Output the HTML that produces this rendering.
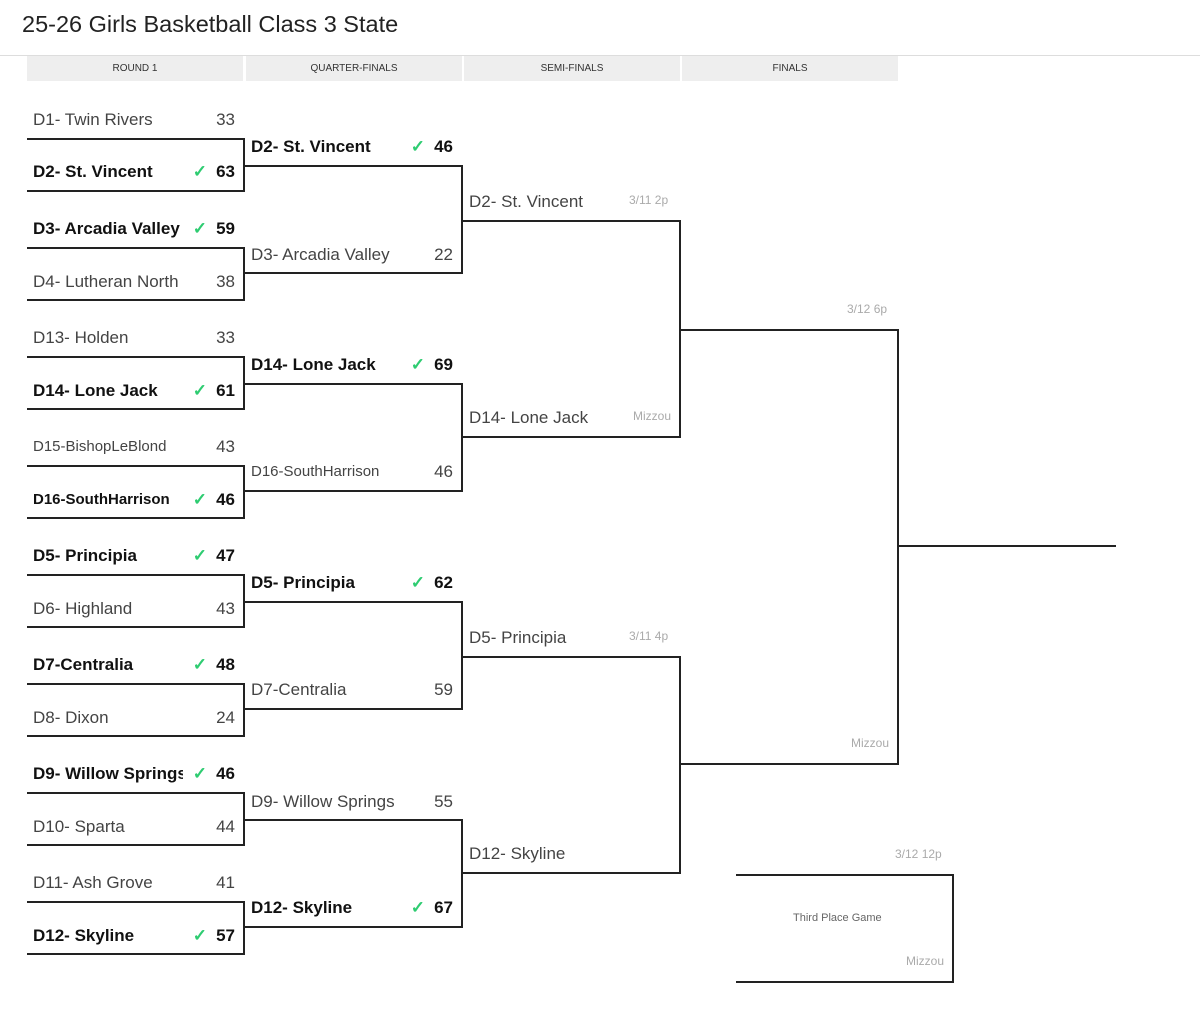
<!DOCTYPE html>
<html><head><meta charset="utf-8"><style>
body{margin:0;width:1200px;height:1022px;background:#fff;font-family:"Liberation Sans",sans-serif;position:relative;overflow:hidden}
.t{position:absolute;left:22px;top:11px;font-size:23.5px;color:#222}
.sep{position:absolute;left:0;top:55px;width:1200px;height:1px;background:#ddd}
.h{position:absolute;top:56px;height:25px;line-height:25px;background:#eee;font-size:10px;color:#333;text-align:center;width:216px}
.b{position:absolute;border:2px solid #222;border-left:none;width:216px}
.r{position:absolute;width:218px;height:26px;line-height:26px;font-size:17px;color:#444}
.r.w{font-weight:bold;color:#111}
.n{position:absolute;left:6px;white-space:nowrap}
.s{position:absolute;right:10px}
.c{position:absolute;right:38px;color:#2ecc71;font-weight:bold}
.d{position:absolute;font-size:12px;color:#aaa}
</style></head><body>
<div class="t">25-26 Girls Basketball Class 3 State</div>
<div class="sep"></div>
<div class="h" style="left:27px">ROUND 1</div>
<div class="h" style="left:246px">QUARTER-FINALS</div>
<div class="h" style="left:464px">SEMI-FINALS</div>
<div class="h" style="left:682px">FINALS</div>

<div class="b" style="left:27px;top:138px;height:50px"></div>
<div class="b" style="left:27px;top:247px;height:50px"></div>
<div class="b" style="left:27px;top:356px;height:50px"></div>
<div class="b" style="left:27px;top:465px;height:50px"></div>
<div class="b" style="left:27px;top:574px;height:50px"></div>
<div class="b" style="left:27px;top:683px;height:50px"></div>
<div class="b" style="left:27px;top:792px;height:50px"></div>
<div class="b" style="left:27px;top:901px;height:50px"></div>
<div class="b" style="left:245px;top:165px;height:105px"></div>
<div class="b" style="left:245px;top:383px;height:105px"></div>
<div class="b" style="left:245px;top:601px;height:105px"></div>
<div class="b" style="left:245px;top:819px;height:105px"></div>
<div class="b" style="left:463px;top:220px;height:214px"></div>
<div class="b" style="left:463px;top:656px;height:214px"></div>
<div class="b" style="left:681px;top:329px;height:432px"></div>
<div style="position:absolute;left:899px;top:545px;width:217px;height:2px;background:#222"></div>
<div class="b" style="left:736px;top:874px;height:105px"></div>

<div class="r" style="left:27px;top:107px"><span class="n">D1- Twin Rivers</span><span class="s">33</span></div>
<div class="r w" style="left:27px;top:159px"><span class="n">D2- St. Vincent</span><span class="c">✓</span><span class="s">63</span></div>
<div class="r w" style="left:27px;top:216px"><span class="n">D3- Arcadia Valley</span><span class="c">✓</span><span class="s">59</span></div>
<div class="r" style="left:27px;top:269px"><span class="n">D4- Lutheran North</span><span class="s">38</span></div>
<div class="r" style="left:27px;top:325px"><span class="n">D13- Holden</span><span class="s">33</span></div>
<div class="r w" style="left:27px;top:378px"><span class="n">D14- Lone Jack</span><span class="c">✓</span><span class="s">61</span></div>
<div class="r" style="left:27px;top:434px"><span class="n" style="font-size:15px">D15-BishopLeBlond</span><span class="s">43</span></div>
<div class="r w" style="left:27px;top:487px"><span class="n" style="font-size:15px">D16-SouthHarrison</span><span class="c">✓</span><span class="s">46</span></div>
<div class="r w" style="left:27px;top:543px"><span class="n">D5- Principia</span><span class="c">✓</span><span class="s">47</span></div>
<div class="r" style="left:27px;top:596px"><span class="n">D6- Highland</span><span class="s">43</span></div>
<div class="r w" style="left:27px;top:652px"><span class="n">D7-Centralia</span><span class="c">✓</span><span class="s">48</span></div>
<div class="r" style="left:27px;top:705px"><span class="n">D8- Dixon</span><span class="s">24</span></div>
<div class="r w" style="left:27px;top:761px"><span class="n" style="width:150px;overflow:hidden">D9- Willow Springs</span><span class="c">✓</span><span class="s">46</span></div>
<div class="r" style="left:27px;top:814px"><span class="n">D10- Sparta</span><span class="s">44</span></div>
<div class="r" style="left:27px;top:870px"><span class="n">D11- Ash Grove</span><span class="s">41</span></div>
<div class="r w" style="left:27px;top:923px"><span class="n">D12- Skyline</span><span class="c">✓</span><span class="s">57</span></div>

<div class="r w" style="left:245px;top:134px"><span class="n">D2- St. Vincent</span><span class="c">✓</span><span class="s">46</span></div>
<div class="r" style="left:245px;top:242px"><span class="n">D3- Arcadia Valley</span><span class="s">22</span></div>
<div class="r w" style="left:245px;top:352px"><span class="n">D14- Lone Jack</span><span class="c">✓</span><span class="s">69</span></div>
<div class="r" style="left:245px;top:459px"><span class="n" style="font-size:15px">D16-SouthHarrison</span><span class="s">46</span></div>
<div class="r w" style="left:245px;top:570px"><span class="n">D5- Principia</span><span class="c">✓</span><span class="s">62</span></div>
<div class="r" style="left:245px;top:677px"><span class="n">D7-Centralia</span><span class="s">59</span></div>
<div class="r" style="left:245px;top:789px"><span class="n">D9- Willow Springs</span><span class="s">55</span></div>
<div class="r w" style="left:245px;top:895px"><span class="n">D12- Skyline</span><span class="c">✓</span><span class="s">67</span></div>

<div class="r" style="left:463px;top:189px"><span class="n">D2- St. Vincent</span></div>
<div class="d" style="left:629px;top:193px">3/11 2p</div>
<div class="r" style="left:463px;top:405px"><span class="n">D14- Lone Jack</span></div>
<div class="d" style="left:633px;top:409px">Mizzou</div>
<div class="r" style="left:463px;top:625px"><span class="n">D5- Principia</span></div>
<div class="d" style="left:629px;top:629px">3/11 4p</div>
<div class="r" style="left:463px;top:841px"><span class="n">D12- Skyline</span></div>

<div class="d" style="left:847px;top:302px">3/12 6p</div>
<div class="d" style="left:851px;top:736px">Mizzou</div>
<div class="d" style="left:895px;top:847px">3/12 12p</div>
<div class="d" style="left:793px;top:912px;color:#666;font-size:11px">Third Place Game</div>
<div class="d" style="left:906px;top:954px">Mizzou</div>
</body></html>
